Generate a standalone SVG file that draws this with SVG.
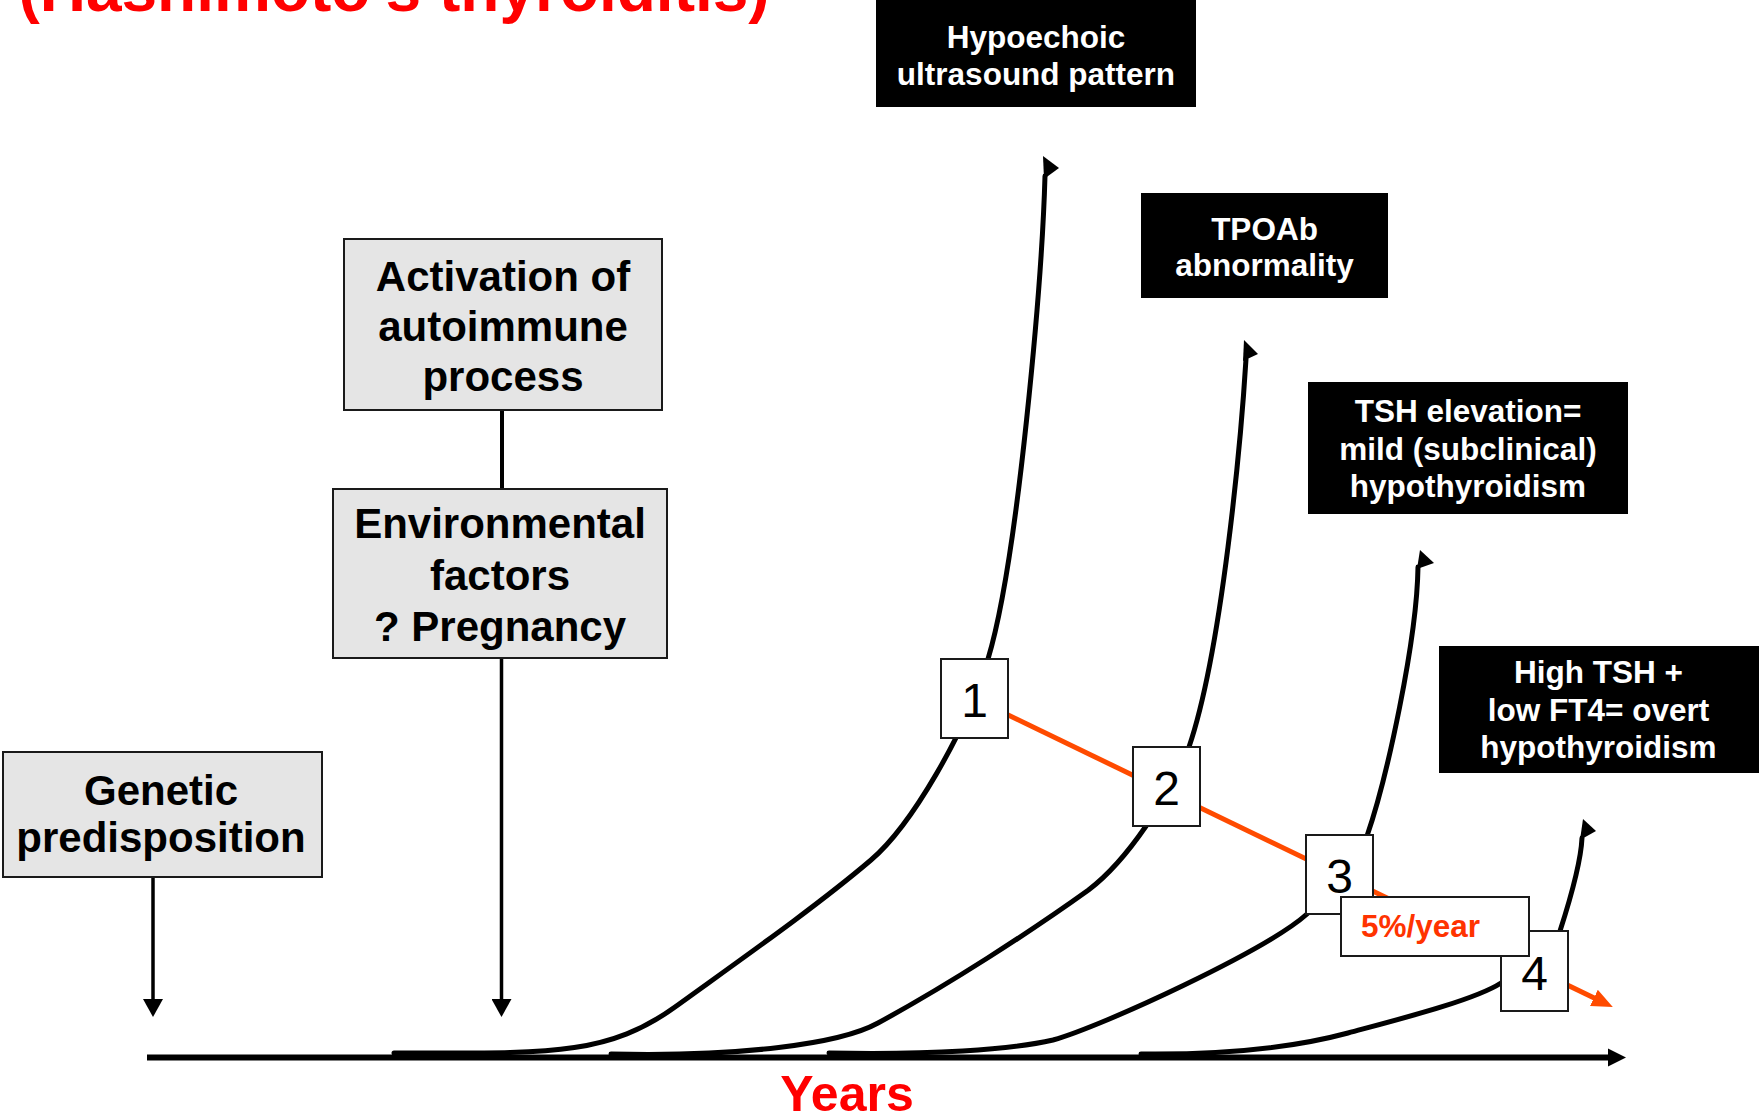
<svg xmlns="http://www.w3.org/2000/svg" width="1759" height="1120" viewBox="0 0 1759 1120">
<defs>
<style>
.t{font-family:"Liberation Sans",Arial,sans-serif;font-weight:bold}
.grey{fill:#e5e5e5;stroke:#1a1a1a;stroke-width:2}
.gt{font-family:"Liberation Sans",Arial,sans-serif;font-weight:bold;font-size:42px;fill:#000;text-anchor:middle}
.blk{fill:#000}
.wt{font-family:"Liberation Sans",Arial,sans-serif;font-weight:bold;font-size:31.5px;fill:#fff;text-anchor:middle}
.nb{fill:#fff;stroke:#1a1a1a;stroke-width:2}
.nt{font-family:"Liberation Sans",Arial,sans-serif;font-size:48px;fill:#000;text-anchor:middle}
.cv{fill:none;stroke:#000;stroke-width:5;stroke-linecap:round;stroke-linejoin:round}
</style>
<marker id="ah" viewBox="0 0 18 20" refX="8" refY="10" markerWidth="18" markerHeight="20" markerUnits="userSpaceOnUse" orient="auto">
<path d="M0,0 L18,10 L0,20 z" fill="#000"/>
</marker>
<marker id="ahAxis" viewBox="0 0 18 20" refX="8" refY="10" markerWidth="18" markerHeight="20" markerUnits="userSpaceOnUse" orient="auto">
<path d="M0,1 L18,10 L0,19 z" fill="#000"/>
</marker>
<marker id="ahOr" viewBox="0 0 21 20" refX="9" refY="10" markerWidth="21" markerHeight="20" markerUnits="userSpaceOnUse" orient="auto">
<path d="M0,1 L21,10 L0,19 z" fill="#ff4b00"/>
</marker>
</defs>
<rect width="1759" height="1120" fill="#fff"/>

<text class="t" x="394" y="11" font-size="64" fill="#ff0000" text-anchor="middle">(Hashimoto's thyroiditis)</text>

<g id="connectors">
  <line x1="502" y1="410" x2="502" y2="489" stroke="#000" stroke-width="4"/>
  <line x1="153" y1="877" x2="153" y2="1007" stroke="#000" stroke-width="3.5" marker-end="url(#ah)"/>
  <line x1="501.5" y1="658" x2="501.5" y2="1007" stroke="#000" stroke-width="3.5" marker-end="url(#ah)"/>
  <line x1="147" y1="1057.5" x2="1616" y2="1057.5" stroke="#000" stroke-width="6" marker-end="url(#ahAxis)"/>
  <path class="cv" d="M394,1053 C544,1053 605,1057.4 675,1007 C740,960 815,907.6 871,860 C911,826 966,732 988,659 C1018,560 1042,280 1045,176"/>
  <polygon points="1043,156 1059,168 1044,179" fill="#000"/>
  <path class="cv" d="M611,1054 C740,1057 840,1044 878,1023 C948,985 1030,932 1088.5,890 C1128,860 1169,797 1189,747 C1222,650 1241,440 1246,359"/>
  <polygon points="1244,340 1258,354 1243,361" fill="#000"/>
  <path class="cv" d="M829,1053 C930,1055 1010,1050 1053,1040 C1103,1026 1267,950 1307,914 C1327,896 1352,880 1367,836 C1387,778 1417,640 1418,567"/>
  <polygon points="1420,550 1434,563 1417,569" fill="#000"/>
  <path class="cv" d="M1141,1054 C1230,1055 1300,1046 1348,1033 C1400,1019 1475,1000 1501,983 C1525,967 1552,955 1560,931 C1570,900 1581,860 1582,838"/>
  <polygon points="1583,819 1596,831 1580,840" fill="#000"/>
  <line x1="974" y1="698.5" x2="1602" y2="1001.8" stroke="#ff4b00" stroke-width="5" marker-end="url(#ahOr)"/>
</g>

<g id="title-years">
  <text class="t" x="847" y="1111" font-size="50" fill="#ff0000" text-anchor="middle">Years</text>
</g>

<g id="genetic">
  <rect class="grey" x="3" y="752" width="319" height="125"/>
  <text class="gt" x="161" y="805">Genetic</text>
  <text class="gt" x="161" y="852">predisposition</text>
</g>
<g id="activation">
  <rect class="grey" x="344" y="239" width="318" height="171"/>
  <text class="gt" x="503" y="290.5">Activation of</text>
  <text class="gt" x="503" y="340.5">autoimmune</text>
  <text class="gt" x="503" y="390.5">process</text>
</g>
<g id="environmental">
  <rect class="grey" x="333" y="489" width="334" height="169"/>
  <text class="gt" x="500" y="538">Environmental</text>
  <text class="gt" x="500" y="589.5">factors</text>
  <text class="gt" x="500" y="640.5">? Pregnancy</text>
</g>

<g id="hypoechoic">
  <rect class="blk" x="876" y="0" width="320" height="107"/>
  <text class="wt" x="1036" y="48">Hypoechoic</text>
  <text class="wt" x="1036" y="84.5">ultrasound pattern</text>
</g>
<g id="tpoab">
  <rect class="blk" x="1141" y="193" width="247" height="105"/>
  <text class="wt" x="1264.5" y="240">TPOAb</text>
  <text class="wt" x="1264.5" y="276">abnormality</text>
</g>
<g id="tsh">
  <rect class="blk" x="1308" y="382" width="320" height="132"/>
  <text class="wt" x="1468" y="422">TSH elevation=</text>
  <text class="wt" x="1468" y="459.5">mild (subclinical)</text>
  <text class="wt" x="1468" y="497">hypothyroidism</text>
</g>
<g id="overt">
  <rect class="blk" x="1439" y="646" width="320" height="127"/>
  <text class="wt" x="1598.5" y="683">High TSH +</text>
  <text class="wt" x="1598.5" y="720.5">low FT4= overt</text>
  <text class="wt" x="1598.5" y="758">hypothyroidism</text>
</g>

<g id="n1">
  <rect class="nb" x="941" y="659" width="67" height="79"/>
  <text class="nt" x="974.5" y="716.5">1</text>
</g>
<g id="n2">
  <rect class="nb" x="1133" y="747" width="67" height="79"/>
  <text class="nt" x="1166.5" y="805">2</text>
</g>
<g id="n3">
  <rect class="nb" x="1306" y="835" width="67" height="79"/>
  <text class="nt" x="1339.5" y="893">3</text>
</g>
<g id="n4">
  <rect class="nb" x="1501" y="931" width="67" height="80"/>
  <text class="nt" x="1534.5" y="989.5">4</text>
</g>
<g id="rate">
  <rect class="nb" x="1341" y="897" width="188" height="59"/>
  <text class="t" x="1361" y="937" font-size="31.5" fill="#ff3300">5%/year</text>
</g>
</svg>
